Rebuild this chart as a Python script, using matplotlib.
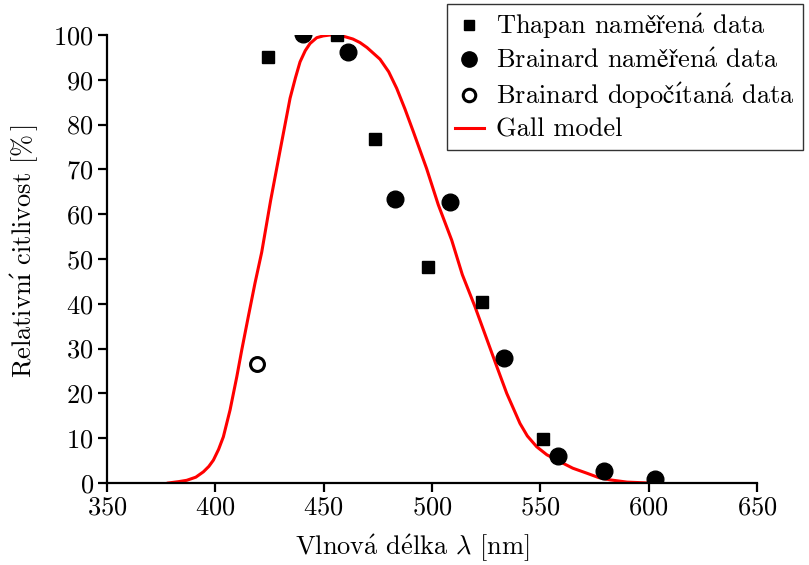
import matplotlib
matplotlib.use("Agg")
import matplotlib.pyplot as plt
from matplotlib.lines import Line2D

plt.rcParams['font.family'] = ['cmr10', 'Liberation Serif']
plt.rcParams['mathtext.fontset'] = 'cm'
plt.rcParams['axes.formatter.use_mathtext'] = True
plt.rcParams['axes.unicode_minus'] = False


def cz(s):
    rep = {'á': r'$\mathrm{\acute{a}}$', 'é': r'$\mathrm{\acute{e}}$',
           'í': '$\\mathrm{\\acute{\u0131}}$',
           'ě': '$\\mathrm{\u011b}$', 'ř': '$\\mathrm{\u0159}$',
           'č': '$\\mathrm{\u010d}$'}
    return ''.join(rep.get(c, c) for c in s)


# Thapan measured data
thapan_x = [424.3, 456.0, 473.7, 498.2, 522.9, 551.1]
thapan_y = [95.2, 100.0, 76.8, 48.3, 40.5, 9.8]

# Brainard measured data
brainard_x = [440.6, 461.4, 482.9, 508.3, 533.2, 558.3, 579.4, 602.9]
brainard_y = [100.2, 96.1, 63.5, 62.7, 27.8, 6.1, 2.75, 0.8]

# Brainard computed data
brainard_calc_x = [419.1]
brainard_calc_y = [26.6]

# Gall model
gall_x = [378.3, 383.0, 386.8, 391.0, 394.5, 397.0, 399.1, 401.5, 403.7, 406.8,
          409.9, 412.2, 415.2, 418.3, 421.4, 425.5, 429.8, 434.5, 437.0, 439.1,
          441.5, 443.7, 446.8, 449.8, 453.0, 456.0, 460.0, 463.5, 466.8, 470.0,
          473.0, 476.0, 480.0, 483.7, 487.5, 491.4, 497.5, 502.9, 509.1, 514.0,
          519.8, 525.0, 529.9, 534.5, 540.6, 544.0, 548.3, 553.0, 559.1, 565.0,
          571.4, 577.0, 582.2, 590.0, 600.0]
gall_y = [0.0, 0.3, 0.6, 1.3, 2.5, 3.7, 5.1, 7.5, 10.3, 16.3,
          23.7, 29.7, 37.1, 44.6, 51.5, 63.0, 74.0, 85.9, 90.5, 94.0,
          96.5, 98.1, 99.4, 99.8, 100.0, 100.0, 99.6, 99.1, 98.3, 97.2,
          95.9, 94.6, 91.8, 88.1, 83.5, 78.4, 70.2, 62.1, 54.2, 46.5,
          39.4, 32.5, 26.0, 20.0, 13.3, 10.5, 8.1, 6.3, 4.75, 3.3,
          2.2, 1.2, 0.7, 0.2, 0.0]

xticks = [350, 400, 450, 500, 550, 600, 650]
yticks = [0, 10, 20, 30, 40, 50, 60, 70, 80, 90, 100]
legend_labels = ['Thapan naměřená data', 'Brainard naměřená data',
                 'Brainard dopočítaná data', 'Gall model']
xlabel = 'Vlnová délka $\\lambda$ [nm]'
ylabel = 'Relativní citlivost [%$\\,$]'

FS = 19

fig = plt.figure(figsize=(8.09, 5.65), dpi=100)
ax = fig.add_axes([107/809, 1-483/565, 650/809, 448/565])

ax.plot(gall_x, gall_y, color='#ff0000', lw=2.2, zorder=2)
ax.plot(thapan_x, thapan_y, ls='none', marker='s', ms=8.5, color='black', zorder=3)
ax.plot(brainard_x, brainard_y, ls='none', marker='o', ms=12, color='black', zorder=3)
ax.plot(brainard_calc_x, brainard_calc_y, ls='none', marker='o', ms=10,
        mfc='white', mec='black', mew=2.2, zorder=3)

ax.set_xlim(350, 650)
ax.set_ylim(0, 100)
ax.set_xticks(xticks)
ax.set_yticks(yticks)
ax.spines['top'].set_visible(False)
ax.spines['right'].set_visible(False)
for s in ['left', 'bottom']:
    ax.spines[s].set_linewidth(1.6)
ax.tick_params(direction='out', length=6.5, width=1.6, labelsize=FS, pad=3)

ax.set_xlabel(cz(xlabel), fontsize=FS)
ax.set_ylabel(cz(ylabel), fontsize=FS)
ax.xaxis.set_label_coords(0.469, -0.112)
ax.yaxis.set_label_coords(-0.102, 0.517)

handles = [
    Line2D([], [], ls='none', marker='s', ms=7.5, color='black'),
    Line2D([], [], ls='none', marker='o', ms=11, color='black'),
    Line2D([], [], ls='none', marker='o', ms=9, mfc='white', mec='black', mew=2.2),
    Line2D([], [], color='#ff0000', lw=2.2),
]
leg = fig.legend(handles, [cz(l) for l in legend_labels], loc='upper left',
                 bbox_to_anchor=(447/809, 1-4/565),
                 frameon=True, fancybox=False, edgecolor='black', fontsize=FS,
                 handlelength=1.1, handletextpad=0.45, borderpad=0.3,
                 labelspacing=0.28, borderaxespad=0)
leg.get_frame().set_linewidth(1.0)

fig.savefig('out.png', dpi=100)
